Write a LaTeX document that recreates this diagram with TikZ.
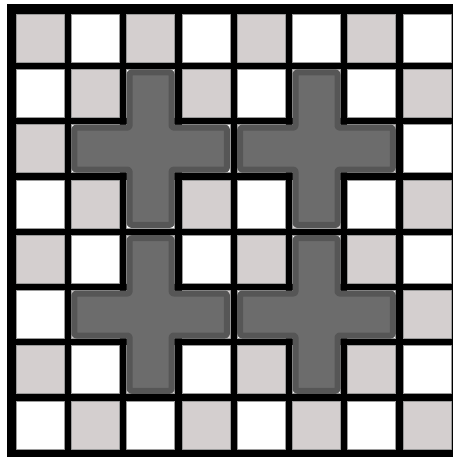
\documentclass[tikz,border=0pt]{standalone}
\definecolor{cellgray}{HTML}{D4CFCF}
\definecolor{cellline}{HTML}{9A9A9A}
\definecolor{plusfill}{HTML}{6C6C6C}
\definecolor{plusedge}{HTML}{565656}
\tikzset{
  plusbody/.style={fill=plusfill, draw=plusedge, line width=4.5pt, rounded corners=1.5pt},
  boardcell/.style={draw=cellline, line width=0.6pt}
}
% one plus piece, centred on cell (#1 = column, #2 = row)
\newcommand\pluspiece[2]{%
  \pgfmathsetmacro\pxL{16+55.3*(#1-1)+3}
  \pgfmathsetmacro\pxl{16+55.3*#1+3}
  \pgfmathsetmacro\pxr{16+55.3*#1+48-3}
  \pgfmathsetmacro\pxR{16+55.3*(#1+1)+48-3}
  \pgfmathsetmacro\pyT{14+55.3*(#2-1)+3}
  \pgfmathsetmacro\pyt{14+55.3*#2+3}
  \pgfmathsetmacro\pyb{14+55.3*#2+48-3}
  \pgfmathsetmacro\pyB{14+55.3*(#2+1)+48-3}
  \filldraw[plusbody] (\pxl,\pyT) -- (\pxr,\pyT) -- (\pxr,\pyt) -- (\pxR,\pyt)
    -- (\pxR,\pyb) -- (\pxr,\pyb) -- (\pxr,\pyB) -- (\pxl,\pyB) -- (\pxl,\pyb)
    -- (\pxL,\pyb) -- (\pxL,\pyt) -- (\pxl,\pyt) -- cycle;
}
\begin{document}
\begin{tikzpicture}[x=0.75pt, y=-0.75pt, line join=round]
  \def\pitch{55.3}\def\cell{48}
  \useasboundingbox (0,0) rectangle (453,457);
  % board
  \fill[black] (7,4) rectangle (453,457);
  \foreach \r in {0,...,7}
    \foreach \c in {0,...,7}{
      \pgfmathsetmacro\xo{16+\pitch*\c}
      \pgfmathsetmacro\yo{14+\pitch*\r}
      \pgfmathtruncatemacro\odd{mod(\r+\c,2)}
      \ifnum\odd=0 \def\cellcol{cellgray}\else\def\cellcol{white}\fi
      \filldraw[boardcell, fill=\cellcol] (\xo,\yo) rectangle ++(\cell,\cell);
    }
  % pieces
  \pluspiece{2}{2}
  \pluspiece{5}{2}
  \pluspiece{2}{5}
  \pluspiece{5}{5}
\end{tikzpicture}
\end{document}
